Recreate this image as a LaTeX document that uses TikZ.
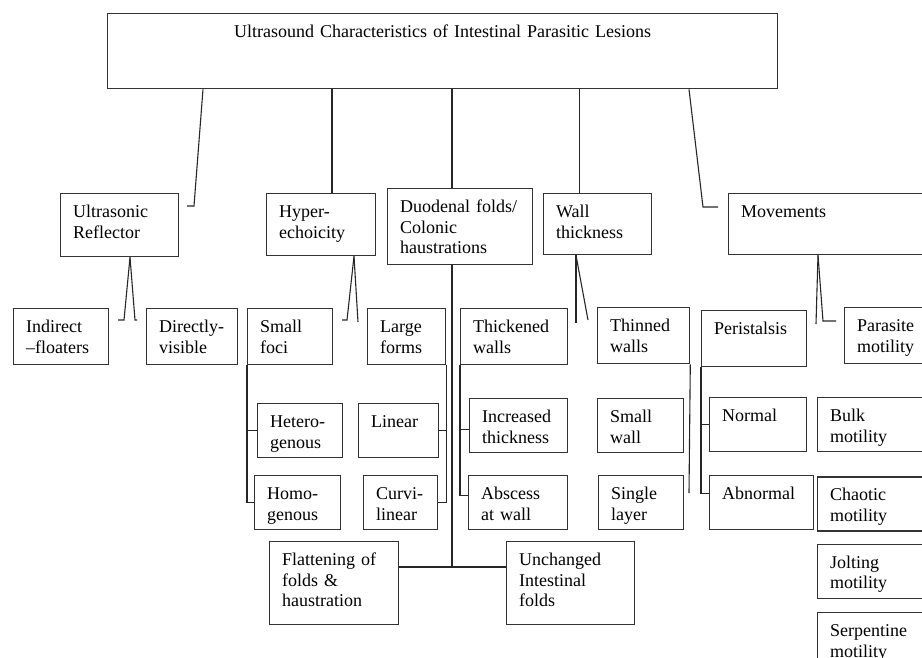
\documentclass[tikz,border=0pt]{standalone}
\usepackage{fontspec}
\setmainfont{Liberation Serif}
\usetikzlibrary{positioning}

\begin{document}
\begin{tikzpicture}[x=1pt,y=-1pt,
    font=\fontsize{18}{20.5}\selectfont,
    box/.style 2 args={draw=black!80, line width=1.3pt, anchor=north west, align=left,
      inner xsep=12.5pt, inner ysep=0pt, text width={#1-25}, text height=24pt, text depth={#2-24}},
    link/.style={line width=1.1pt, black!85}]
    \useasboundingbox (0,0) rectangle (922,657);
    \clip (0,0) rectangle (922,657);

    \node[box={670}{75}, align=center] (title) at (107,13) {Ultrasound Characteristics of Intestinal Parasitic Lesions};

    \node[box={118}{63}] (ultra) at (60,193) {Ultrasonic\\Reflector};
    \node[box={109}{62}] (hyper) at (266,193) {Hyper-\\echoicity};
    \node[box={145}{76}] (duod) at (387,188) {Duodenal folds/\\Colonic\\haustrations};
    \node[box={108}{61}] (wall) at (543,193) {Wall\\thickness};
    \node[box={210}{61}] (move) at (728,193) {Movements};

    \node[box={95}{56}] (indirect) at (13,308) {Indirect\\–floaters};
    \node[box={91}{56}] (direct) at (146,308) {Directly-\\visible};
    \node[box={85}{56}] (small) at (247,308) {Small\\foci};
    \node[box={78}{56}] (large) at (367,308) {Large\\forms};
    \node[box={107}{56}] (thick) at (460,308) {Thickened\\walls};
    \node[box={92}{56}] (thin) at (597,307) {Thinned\\walls};
    \node[box={105}{56}] (peri) at (701,310) {Peristalsis};
    \node[box={100}{56}] (para) at (844,307) {Parasite\\motility};

    \node[box={85}{54}] (hetero) at (257,403) {Hetero-\\genous};
    \node[box={80}{54}] (linear) at (358,403) {Linear};
    \node[box={98}{54}] (incr) at (469,398) {Increased\\thickness};
    \node[box={86}{54}] (smallw) at (597,398) {Small\\wall};
    \node[box={97}{54}] (normal) at (709,397) {Normal};
    \node[box={104.5}{54}] (bulk) at (817,397) {Bulk\\motility};

    \node[box={86}{54}] (homo) at (254,475) {Homo-\\genous};
    \node[box={74}{54}] (curvi) at (363,475) {Curvi-\\linear};
    \node[box={99}{54}] (absc) at (468,475) {Abscess\\at wall};
    \node[box={85}{54}] (single) at (598,475) {Single\\layer};
    \node[box={104}{54}] (abnorm) at (709,475) {Abnormal};
    \node[box={104.5}{54}] (chaotic) [below=24pt of bulk] {Chaotic\\motility};
    \node[box={104.5}{54}] (jolting) [below=12pt of chaotic] {Jolting\\motility};
    \node[box={104.5}{70}] (serp) [below=13pt of jolting] {Serpentine\\motility};

    \node[box={129}{83}] (flat) at (269,541) {Flattening of\\folds \&\\haustration};
    \node[box={128}{83}] (unch) at (506,541) {Unchanged\\Intestinal\\folds};

    \coordinate (tb1) at ([xshift=96pt]title.south west);
    \coordinate (tb2) at ([xshift=225pt]title.south west);
    \coordinate (tb3) at ([xshift=345pt]title.south west);
    \coordinate (tb4) at ([xshift=472.5pt]title.south west);
    \coordinate (tb5) at ([xshift=582pt]title.south west);
    \coordinate (ultra-hook) at (187,206);
    \coordinate (move-hook) at (718,207);

    \draw[link] (tb1) -- ([xshift=7pt]ultra-hook) -- (ultra-hook);
    \draw[link] (tb2) -- (tb2 |- hyper.north);
    \draw[link] (tb3) -- (tb3 |- duod.north);
    \draw[link] (tb4) -- (tb4 |- wall.north);
    \draw[link] (tb5) -- ([xshift=-15pt]move-hook) -- (move-hook);

    \coordinate (ultra-apex) at ([xshift=70pt]ultra.south west);
    \coordinate (ind-hook) at (118,320);
    \coordinate (dir-hook) at (137,320);
    \draw[link] (ultra-apex) -- ([xshift=6pt]ind-hook) -- (ind-hook);
    \draw[link] (ultra-apex) -- ([xshift=-2pt]dir-hook) -- (dir-hook);

    \coordinate (hyper-apex) at ([xshift=88pt]hyper.south west);
    \coordinate (small-hook) at (342,320);
    \coordinate (large-end) at (358,322);
    \draw[link] (hyper-apex) -- ([xshift=5pt]small-hook) -- (small-hook);
    \draw[link] (hyper-apex) -- (large-end);

    \coordinate (wall-apex) at ([xshift=33pt]wall.south west);
    \coordinate (thin-l) at (576,323);
    \coordinate (thin-r) at (588,320);
    \draw[link] (wall-apex) -- (thin-l);
    \draw[link] (wall-apex) -- (thin-r);

    \coordinate (move-apex) at ([xshift=90pt]move.south west);
    \coordinate (peri-end) at (816,324);
    \coordinate (para-hook) at (836,321);
    \draw[link] (move-apex) -- (peri-end);
    \draw[link] (move-apex) -- ([xshift=-13pt]para-hook) -- (para-hook);

    \draw[link] (small.south west) -- (small.south west |- homo.west) -- (homo.west);
    \draw[link] (small.south west |- hetero.west) -- (hetero.west);
    \draw[link] (large.south east) -- (large.south east |- curvi.east) -- (curvi.east);
    \draw[link] (large.south east |- linear.east) -- (linear.east);

    \coordinate (fold-joint) at (452,567);
    \draw[link] (fold-joint |- duod.south) -- (fold-joint);
    \draw[link] (flat.east |- fold-joint) -- (unch.west |- fold-joint);

    \coordinate (incr-hook) at ([yshift=-4pt]incr.west);
    \coordinate (absc-hook) at ([yshift=7pt]absc.west);
    \draw[link] (thick.south west) -- (thick.south west |- absc-hook) -- (absc-hook);
    \draw[link] (thick.south west |- incr-hook) -- (incr-hook);

    \coordinate (thin-end) at (689,493);
    \draw[link] (thin.south east) -- (thin-end);

    \coordinate (abn-hook) at ([yshift=9pt]abnorm.west);
    \draw[link] (peri.south west) -- (peri.south west |- abn-hook) -- (abn-hook);
    \draw[link] (peri.south west |- normal.west) -- (normal.west);
\end{tikzpicture}
\end{document}
